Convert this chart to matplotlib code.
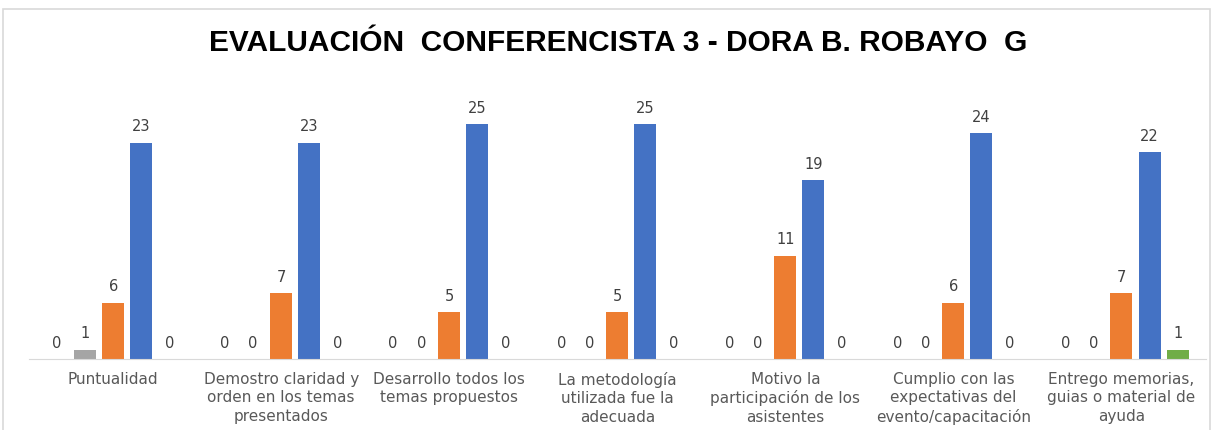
import matplotlib
matplotlib.use('Agg')
import matplotlib.pyplot as plt
import numpy as np
from matplotlib.patches import Rectangle

plt.rcParams['font.family'] = ['Liberation Sans', 'DejaVu Sans']

categories = [
    'Puntualidad',
    'Demostro claridad y\norden en los temas\npresentados',
    'Desarrollo todos los\ntemas propuestos',
    'La metodología\nutilizada fue la\nadecuada',
    'Motivo la\nparticipación de los\nasistentes',
    'Cumplio con las\nexpectativas del\nevento/capacitación',
    'Entrego memorias,\nguias o material de\nayuda',
]
serie_1 = [0, 0, 0, 0, 0, 0, 0]
serie_2 = [1, 0, 0, 0, 0, 0, 0]
serie_3 = [6, 7, 5, 5, 11, 6, 7]
serie_4 = [23, 23, 25, 25, 19, 24, 22]
serie_5 = [0, 0, 0, 0, 0, 0, 1]

series = [serie_1, serie_2, serie_3, serie_4, serie_5]
colors = ['#FFC000', '#A5A5A5', '#ED7D31', '#4472C4', '#70AD47']

fig = plt.figure(figsize=(12.14, 4.30), dpi=100)
ax = fig.add_axes([0.024, 0.165, 0.969, 0.656])

# chart frame
fig.patches.append(Rectangle((3 / 1214, -0.05), 1207 / 1214, 1.05 - 9 / 430,
                             transform=fig.transFigure, fill=False,
                             edgecolor='#D9D9D9', linewidth=1.2))

x = np.arange(len(categories))
step = 0.167
width = 0.131
for i, (vals, col) in enumerate(zip(series, colors)):
    pos = x + (i - 2) * step
    ax.bar(pos, vals, width=width, color=col, zorder=2)
    for px, v in zip(pos, vals):
        ax.annotate(str(v), (px, v), xytext=(0, 6), textcoords='offset points',
                    ha='center', va='bottom', fontsize=10.5, color='#404040',
                    family='DejaVu Sans')

ax.set_xlim(-0.5, len(categories) - 0.5)
ax.set_ylim(0, 30)
ax.set_xticks(x)
ax.set_xticklabels(categories, fontsize=11, color='#595959', linespacing=1.3,
                   family='DejaVu Sans')
ax.tick_params(axis='x', length=0, pad=9)
ax.set_yticks([])
for s in ['top', 'right', 'left']:
    ax.spines[s].set_visible(False)
ax.spines['bottom'].set_color('#D9D9D9')

fig.text(0.509, 0.9, 'EVALUACIÓN  CONFERENCISTA 3 - DORA B. ROBAYO  G',
         ha='center', va='center', fontsize=21.5, fontweight='bold', color='#000000')

fig.savefig('out.png', dpi=100)
